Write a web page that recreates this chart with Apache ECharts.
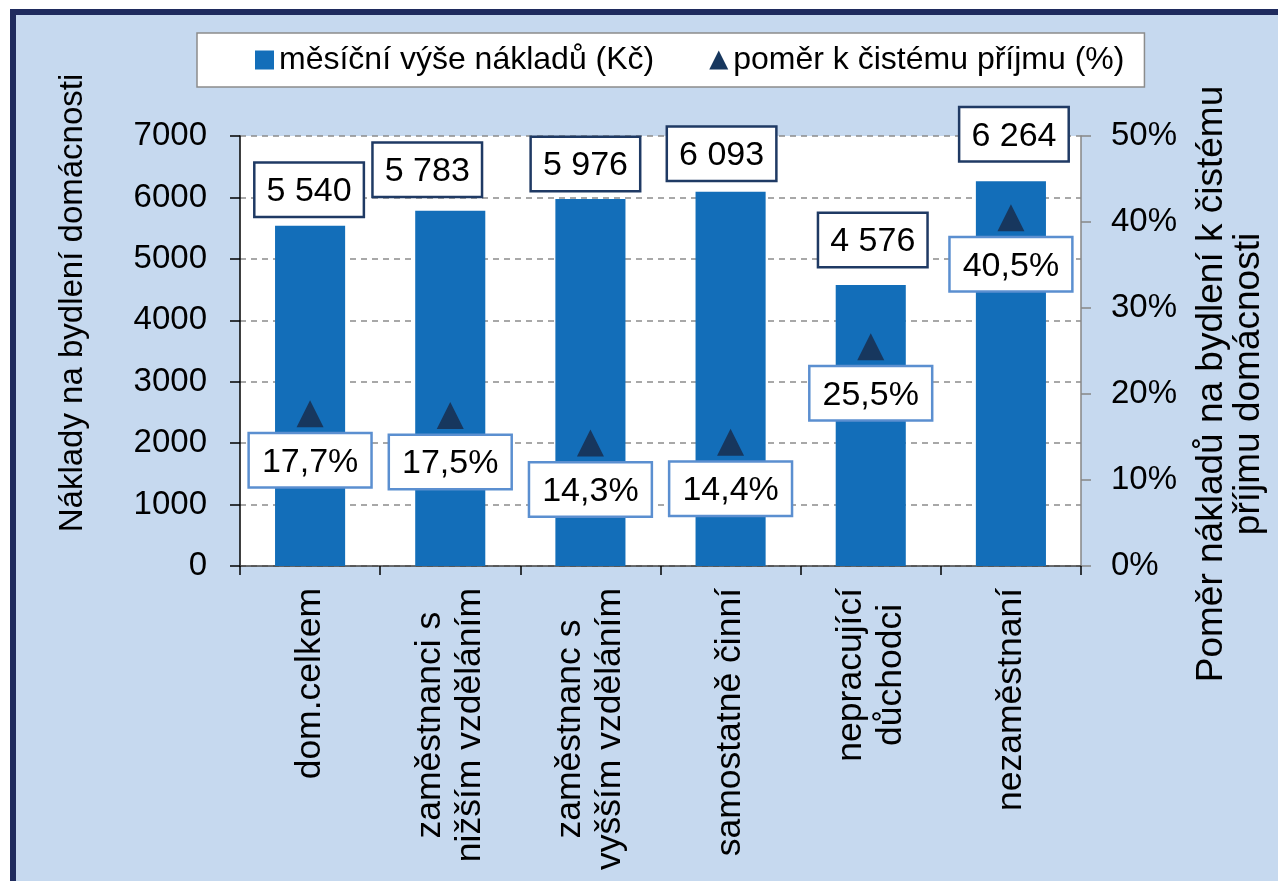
<!DOCTYPE html>
<html>
<head>
<meta charset="utf-8">
<title>Náklady na bydlení domácností</title>
<script src="https://cdn.jsdelivr.net/npm/echarts@6/dist/echarts.min.js"></script>
<style>
    html, body { margin: 0; padding: 0; background: #fff; overflow: hidden; }
    #frame { position: absolute; left: 10px; top: 9px; width: 1300px; height: 900px;
             border-left: 6px solid #1f2b5e; border-top: 6px solid #1f2b5e; background: #c6d9ef; }
    #main { position: absolute; left: 0; top: 0; width: 1278px; height: 881px; }
</style>
</head>
<body>
<div id="frame"></div>
<div id="main"></div>
<script>
// categories (line breaks as in the original labels)
var categories = [
    'dom.celkem',
    'zaměstnanci s\nnižším vzděláním',
    'zaměstnanc s\nvyšším vzděláním',
    'samostatně činní',
    'nepracující\ndůchodci',
    'nezaměstnaní'
];
// měsíční výše nákladů (Kč)
var costs = [5540, 5783, 5976, 6093, 4576, 6264];
// poměr k čistému příjmu (%)
var ratios = [17.7, 17.5, 14.3, 14.4, 25.5, 40.5];

var costName = 'měsíční výše nákladů (Kč)';
var ratioName = 'poměr k čistému příjmu (%)';

// hand-placed label boxes in the original (gap above bar, sideways shift)
var costLabelGap = [10, 15, 9, 12, 19, 21];
var costLabelShift = [-1, -23, -5, -9, 2, 3];

var FONT = 'Liberation Sans, Arial, sans-serif';

function fmtThousands(v) {
    return String(v).replace(/\B(?=(\d{3})+(?!\d))/g, ' ');
}
function fmtPct(v) {
    return v.toFixed(1).replace('.', ',') + '%';
}

var chart = echarts.init(document.getElementById('main'), null, {renderer: 'canvas'});

var option = {
    backgroundColor: 'transparent',
    textStyle: { fontFamily: FONT, color: '#000' },
    legend: {
        left: 197, top: 33,
        padding: [11, 20, 11, 58],
        itemGap: 55, itemWidth: 19, itemHeight: 19,
        backgroundColor: '#fff', borderColor: '#8c8c8c', borderWidth: 1.5,
        textStyle: { fontSize: 32, color: '#000', fontFamily: FONT },
        data: [
            { name: costName, icon: 'rect' },
            { name: ratioName, icon: 'triangle' }
        ]
    },
    grid: {
        left: 240, right: 197, top: 136, bottom: 315,
        show: true, backgroundColor: '#fff', borderWidth: 0
    },
    xAxis: {
        type: 'category',
        data: categories,
        boundaryGap: true,
        axisLine: { lineStyle: { color: '#404040', width: 1.5 } },
        axisTick: { show: true, length: 9, lineStyle: { color: '#000', width: 1.5 } },
        axisLabel: {
            rotate: 90, margin: 22, interval: 0, color: '#000',
            formatter: function (s) {
                return s.split('\n').map(function (l) { return '{c|' + l + '}'; }).join('\n');
            },
            rich: { c: { fontSize: 35.5, lineHeight: 40, align: 'center', fontFamily: FONT, color: '#000' } }
        }
    },
    yAxis: [
        {
            type: 'value', min: 0, max: 7000, interval: 1000,
            name: 'Náklady na bydlení domácnosti',
            nameLocation: 'middle', nameRotate: 90, nameGap: 148,
            nameTextStyle: { fontSize: 33, lineHeight: 38, color: '#000', fontFamily: FONT, padding: [0, 0, 0, 96] },
            axisLine: { show: true, lineStyle: { color: '#000', width: 1.5 } },
            axisTick: { show: true, length: 10, lineStyle: { color: '#000', width: 1.5 } },
            axisLabel: { fontSize: 33, margin: 33, color: '#000', fontFamily: FONT,
                         formatter: function (v) { return String(v); } },
            splitLine: { show: true, lineStyle: { color: '#8c8c8c', type: [6, 5], width: 1.5 } }
        },
        {
            type: 'value', min: 0, max: 50, interval: 10,
            name: 'Poměr nákladů na bydlení k čistému\npříjmu domácnosti',
            nameLocation: 'middle', nameRotate: 90, nameGap: 112,
            nameTextStyle: { fontSize: 37, lineHeight: 37, color: '#000', fontFamily: FONT, align: 'center', padding: [0, 66, 0, 0] },
            axisLine: { show: true, lineStyle: { color: '#868686', width: 1.5 } },
            axisTick: { show: true, length: 10, lineStyle: { color: '#868686', width: 1.5 } },
            axisLabel: { fontSize: 33, margin: 30, color: '#000', fontFamily: FONT, formatter: '{value}%' },
            splitLine: { show: false }
        }
    ],
    series: [
        {
            name: costName,
            type: 'bar',
            barWidth: '50%',
            itemStyle: { color: '#136eb9' },
            data: costs.map(function (v, i) {
                return {
                    value: v,
                    label: { distance: costLabelGap[i], offset: [costLabelShift[i], 0] }
                };
            }),
            label: {
                show: true, position: 'top',
                fontSize: 34, lineHeight: 36, color: '#000', fontFamily: FONT,
                backgroundColor: '#fff', borderColor: '#1f3a64', borderWidth: 2.5,
                padding: [10, 11, 6, 11],
                formatter: function (p) { return fmtThousands(p.value); }
            },
            z: 2
        },
        {
            name: ratioName,
            type: 'scatter',
            yAxisIndex: 1,
            symbol: 'triangle',
            symbolSize: 27,
            itemStyle: { color: '#17375e', opacity: 1 },
            data: ratios.map(function (v, i) { return [categories[i], v]; }),
            label: {
                show: true, position: 'bottom', distance: 7,
                fontSize: 34, lineHeight: 36, color: '#000', opacity: 1, fontFamily: FONT,
                backgroundColor: '#fff', borderColor: '#5b8fd0', borderWidth: 2.5,
                padding: [10, 12, 6, 12],
                formatter: function (p) { return fmtPct(p.value[1]); }
            },
            emphasis: { disabled: true },
            z: 3
        }
    ]
};

chart.setOption(option);
</script>
</body>
</html>
